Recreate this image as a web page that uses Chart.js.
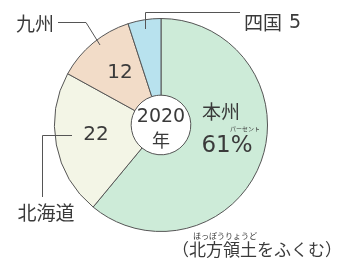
<!DOCTYPE html>
<html lang="ja">
<head>
<meta charset="utf-8">
<script src="https://cdn.jsdelivr.net/npm/chart.js@4"></script>
<style>
  html, body { margin: 0; padding: 0; background: #fff; }
  #wrap { width: 347px; height: 267px; }
</style>
</head>
<body>
<div id="wrap"><canvas id="chart" width="347" height="267"></canvas></div>
<script>
// ── Data ─────────────────────────────────────────────────────────────────────
const regions = ['本州', '北海道', '九州', '四国'];
const shares  = [61, 22, 12, 5];
const fills   = ['#cdebd8', '#f3f5e6', '#f2dcc8', '#b8e2ee'];
const yearLabel = ['2020', '年'];
const noteText  = '（北方領土をふくむ）';
const noteRuby  = 'ほっぽうりょうど';

const JP   = '"Noto Sans CJK JP", "Noto Sans", sans-serif';
const NUM  = '"DejaVu Sans", sans-serif';
const INK  = '#3a3a3a';
const LINE = '#555';

function text(ctx, s, x, y, size, align, family) {
  ctx.font = size + 'px ' + (family || JP);
  ctx.textAlign = align || 'center';
  ctx.textBaseline = 'middle';
  ctx.fillText(s, x, y);
}

function path(ctx, pts) {
  ctx.beginPath();
  ctx.moveTo(pts[0][0], pts[0][1]);
  for (let i = 1; i < pts.length; i++) ctx.lineTo(pts[i][0], pts[i][1]);
  ctx.stroke();
}

// ── Labels + leader lines ────────────────────────────────────────────────────
const labelPlugin = {
  id: 'labels',
  afterDraw(chart) {
    const ctx = chart.ctx;
    const arc = chart.getDatasetMeta(0).data[0];
    const cx = arc.x, cy = arc.y;
    ctx.save();
    ctx.fillStyle = INK;
    ctx.strokeStyle = LINE;
    ctx.lineWidth = 1;

    // centre
    text(ctx, yearLabel[0], cx, cy - 8, 19, 'center', NUM);
    text(ctx, yearLabel[1], cx, cy + 15, 18);

    // 本州
    text(ctx, regions[0], cx + 60, cy - 13, 19);
    text(ctx, shares[0] + '%', cx + 66, cy + 21, 23, 'center', NUM);
    text(ctx, 'パーセント', cx + 84, cy + 4, 6);

    // 北海道
    text(ctx, String(shares[1]), cx - 65, cy + 10, 20, 'center', NUM);
    text(ctx, regions[1], cx - 115, cy + 88, 19);
    path(ctx, [[cx - 89, cy + 10.5], [cx - 118.5, cy + 10.5], [cx - 118.5, cy + 72]]);

    // 九州
    text(ctx, String(shares[2]), cx - 41, cy - 52, 20, 'center', NUM);
    text(ctx, regions[2], cx - 126, cy - 101, 19);
    path(ctx, [[cx - 103, cy - 102.5], [cx - 75, cy - 102.5], [cx - 61, cy - 80]]);

    // 四国
    text(ctx, regions[3], cx + 83, cy - 102, 19, 'left');
    text(ctx, String(shares[3]), cx + 128, cy - 102, 19, 'left', NUM);
    path(ctx, [[cx - 15.5, cy - 96], [cx - 15.5, cy - 112.5], [cx + 79, cy - 112.5]]);

    // note
    text(ctx, noteText, 342, 250, 17, 'right');
    text(ctx, noteRuby, 193, 236, 8, 'left');
    ctx.restore();
  }
};

new Chart(document.getElementById('chart'), {
  type: 'doughnut',
  data: {
    labels: regions,
    datasets: [{
      data: shares,
      backgroundColor: fills,
      borderColor: LINE,
      borderWidth: 1,
      hoverOffset: 0,
    }],
  },
  options: {
    responsive: false,
    animation: false,
    cutout: '28%',
    rotation: 0,
    layout: { padding: { left: 54, right: 79, top: 18, bottom: 35 } },
    plugins: {
      legend: { display: false },
      tooltip: { enabled: false },
    },
  },
  plugins: [labelPlugin],
});
</script>
</body>
</html>
